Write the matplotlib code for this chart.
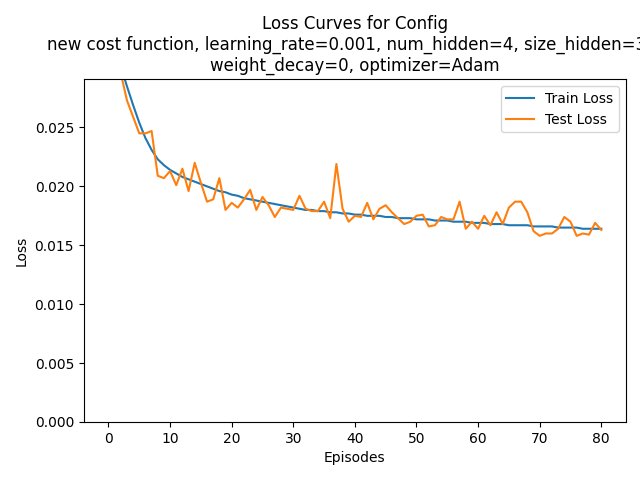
import matplotlib
matplotlib.use('Agg')
import matplotlib.pyplot as plt
import numpy as np

# loss per episode
episodes = np.arange(81)

train_loss = [
    0.0600, 0.0400, 0.0302, 0.0285, 0.0269, 0.0254, 0.0241, 0.0231, 0.0223, 0.0218,
    0.0214, 0.0211, 0.0208, 0.0206, 0.0204, 0.0202, 0.0200, 0.0198, 0.0196, 0.0195,
    0.0193, 0.0192, 0.0190, 0.0189, 0.0188, 0.0187, 0.0186, 0.0185, 0.0184, 0.0183,
    0.0182, 0.0181, 0.0180, 0.0180, 0.0179, 0.0179, 0.0178, 0.0178, 0.0177, 0.0177,
    0.0176, 0.0176, 0.0175, 0.0175, 0.0175, 0.0174, 0.0174, 0.0173, 0.0173, 0.0173,
    0.0172, 0.0172, 0.0172, 0.0171, 0.0171, 0.0171, 0.0170, 0.0170, 0.0170, 0.0169,
    0.0169, 0.0169, 0.0168, 0.0168, 0.0168, 0.0167, 0.0167, 0.0167, 0.0167, 0.0166,
    0.0166, 0.0166, 0.0166, 0.0165, 0.0165, 0.0165, 0.0165, 0.0164, 0.0164, 0.0164,
    0.0164,
]

test_loss = [
    0.0500, 0.0350, 0.0296, 0.0273, 0.0259, 0.0245, 0.0245, 0.0247, 0.0209, 0.0207,
    0.0213, 0.0201, 0.0215, 0.0196, 0.0220, 0.0203, 0.0187, 0.0189, 0.0207, 0.0180,
    0.0186, 0.0182, 0.0189, 0.0197, 0.0180, 0.0191, 0.0184, 0.0174, 0.0182, 0.0181,
    0.0180, 0.0192, 0.0181, 0.0179, 0.0179, 0.0187, 0.0173, 0.0219, 0.0181, 0.0170,
    0.0175, 0.0174, 0.0186, 0.0172, 0.0181, 0.0184, 0.0178, 0.0173, 0.0168, 0.0170,
    0.0175, 0.0176, 0.0166, 0.0167, 0.0174, 0.0172, 0.0172, 0.0187, 0.0164, 0.0170,
    0.0164, 0.0175, 0.0167, 0.0178, 0.0168, 0.0182, 0.0187, 0.0187, 0.0178, 0.0162,
    0.0158, 0.0160, 0.0160, 0.0164, 0.0174, 0.0170, 0.0158, 0.0160, 0.0159, 0.0169,
    0.0163,
]

title = ('Loss Curves for Config\n'
         'new cost function, learning_rate=0.001, num_hidden=4, size_hidden=32,\n'
         'weight_decay=0, optimizer=Adam')

fig, ax = plt.subplots(figsize=(6.4, 4.8), dpi=100)
ax.plot(episodes, train_loss, label='Train Loss')
ax.plot(episodes, test_loss, label='Test Loss')
ax.set_ylim(0, 0.0291)
ax.set_xlabel('Episodes')
ax.set_ylabel('Loss')
ax.set_title(title)
ax.legend(loc='upper right')

fig.subplots_adjust(left=0.131, right=0.978, top=0.835, bottom=0.121)
fig.savefig('out.png')
